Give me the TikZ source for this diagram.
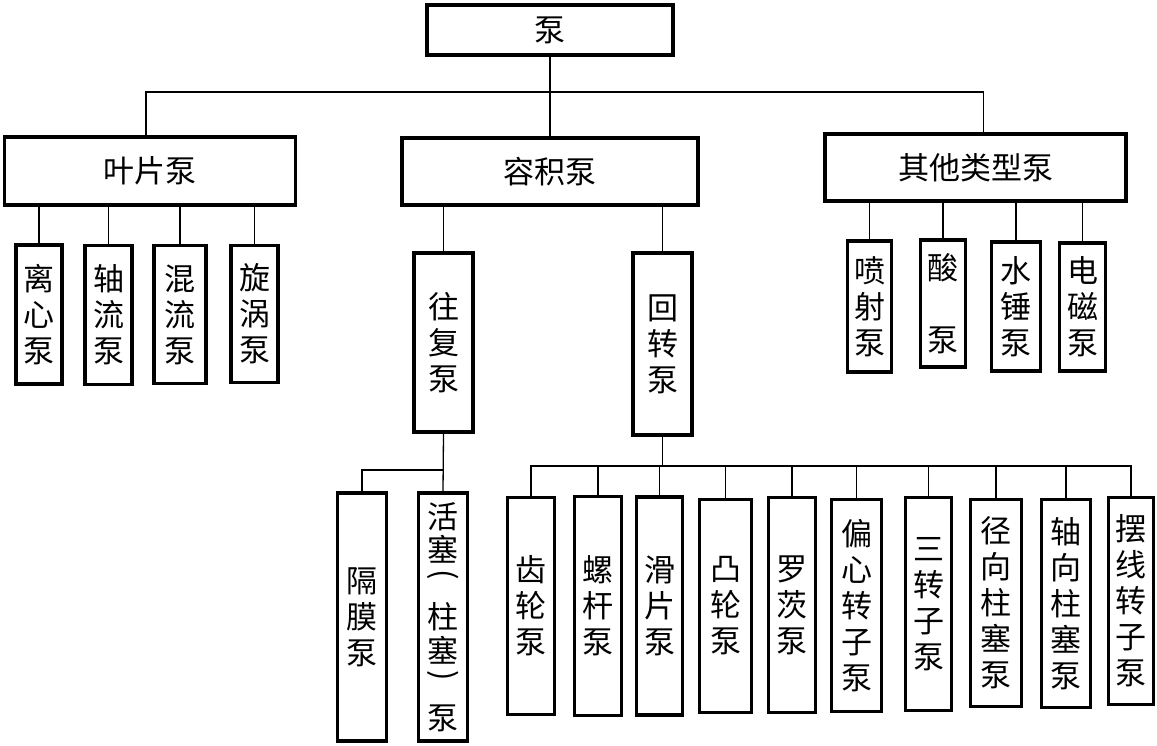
\documentclass[tikz,border=0pt]{standalone}
\usepackage{fontspec}
\setmainfont{Noto Sans CJK SC}
\usepackage{tikz}

\tikzset{
  box/.style={draw, line width=3.5pt, inner sep=0pt, align=center,
              font=\fontsize{31}{36}\selectfont},
  link/.style={line width=1.3pt},
}
% vertical brackets
\newcommand{\vlbr}{\raisebox{0.35em}{\rotatebox[origin=c]{-90}{(}}}
\newcommand{\vrbr}{\raisebox{0.35em}{\rotatebox[origin=c]{-90}{)}}}

\begin{document}
\begin{tikzpicture}[x=1pt, y=-1pt]
        \useasboundingbox (0,0) rectangle (1157,745);
        \fill[white] (0,0) rectangle (1157,745);

        % Top level
        \node[box, minimum width=246pt, minimum height=50pt] (beng) at (550,30) {泵};

        % Second level
        \node[box, minimum width=291pt, minimum height=68pt] (yepian) at (150,171) {叶片泵};
        \node[box, minimum width=296pt, minimum height=67pt] (rongji) at (550,171.5) {容积泵};
        \node[box, minimum width=301pt, minimum height=67pt] (qita) at (975.5,167.5) {其他类型泵};

        \coordinate (bus) at (550,92);
        \draw[link] (beng) -- (bus);
        \draw[link] ([xshift=-4pt]yepian.north) |- (bus) -| ([xshift=8pt]qita.north);
        \draw[link] (rongji) -- (bus);

        % Children of the vane pumps
        \node[box, minimum width=46pt, minimum height=139pt] (lixin) at (39,314.5) {离\\心\\泵};
        \node[box, minimum width=47pt, minimum height=139pt] (zhouliu) at (108.5,315) {轴\\流\\泵};
        \node[box, minimum width=52pt, minimum height=138pt] (hunliu) at (180,314.5) {混\\流\\泵};
        \node[box, minimum width=47pt, minimum height=137pt] (xuanwo) at (254.5,314) {旋\\涡\\泵};
        \foreach \n in {lixin, zhouliu, hunliu, xuanwo}
          \draw[link] (\n.north) -- (\n.north |- yepian.south);

        % Children of the displacement pumps
        \node[box, minimum width=59pt, minimum height=179pt] (wangfu) at (443.5,342.5) {往\\复\\泵};
        \node[box, minimum width=59pt, minimum height=182pt] (huizhuan) at (662.5,344) {回\\转\\泵};
        \draw[link] (wangfu.north) -- (wangfu.north |- rongji.south);
        \draw[link] (huizhuan.north) -- (huizhuan.north |- rongji.south);

        % Children of the other pumps
        \node[box, minimum width=44pt, minimum height=131pt] (penshe) at (869.5,306.5) {喷\\射\\泵};
        \node[box, minimum width=45pt, minimum height=127pt] (suan) at (943,303.5) {酸\\\mbox{}\\泵};
        \node[box, minimum width=49pt, minimum height=129pt] (shuichui) at (1016,306.5) {水\\锤\\泵};
        \node[box, minimum width=46pt, minimum height=128pt] (dianci) at (1082.5,307) {电\\磁\\泵};
        \foreach \n in {penshe, suan, shuichui, dianci}
          \draw[link] (\n.north) -- (\n.north |- qita.south);

        % Reciprocating pumps
        \node[box, minimum width=49pt, minimum height=248pt] (gemo) at (362,617) {隔\\膜\\泵};
        \node[box, minimum width=49pt, minimum height=248pt,
              font=\fontsize{31}{33.5}\selectfont] (huosai) at (443,617) {活\\塞\\\vlbr\\柱\\塞\\\vrbr\\泵};
        \coordinate (wfbus) at (443,470);
        \draw[link] (wangfu.south) -- (huosai.north);
        \draw[link] (gemo.north) |- (wfbus);

        % Rotary pumps
        \node[box, minimum width=47pt, minimum height=217pt] (chilun) at (531,606) {齿\\轮\\泵};
        \node[box, minimum width=47pt, minimum height=219pt] (luogan) at (598,606) {螺\\杆\\泵};
        \node[box, minimum width=46pt, minimum height=218pt] (huapian) at (659.5,606) {滑\\片\\泵};
        \node[box, minimum width=52pt, minimum height=213pt] (tulun) at (725.5,606) {凸\\轮\\泵};
        \node[box, minimum width=47pt, minimum height=215pt] (luoci) at (792,605) {罗\\茨\\泵};
        \node[box, minimum width=50pt, minimum height=212pt] (pianxin) at (856.5,605.5) {偏\\心\\转\\子\\泵};
        \node[box, minimum width=46pt, minimum height=213pt] (sanzhuan) at (928.5,604) {三\\转\\子\\泵};
        \node[box, minimum width=51pt, minimum height=207pt] (jingxiang) at (996,603) {径\\向\\柱\\塞\\泵};
        \node[box, minimum width=49pt, minimum height=208pt] (zhouxiang) at (1066,603.5) {轴\\向\\柱\\塞\\泵};
        \node[box, minimum width=45pt, minimum height=207pt] (baixian) at (1131,601) {摆\\线\\转\\子\\泵};

        \coordinate (hzbus) at (662.5,466);
        \draw[link] (huizhuan.south) -- (hzbus);
        \draw[link] (chilun.north) |- (hzbus) -| (baixian.north);
        \foreach \n in {luogan, huapian, tulun, luoci, pianxin, sanzhuan, jingxiang, zhouxiang}
          \draw[link] (\n.north) -- (\n.north |- hzbus);

    \end{tikzpicture}
\end{document}
